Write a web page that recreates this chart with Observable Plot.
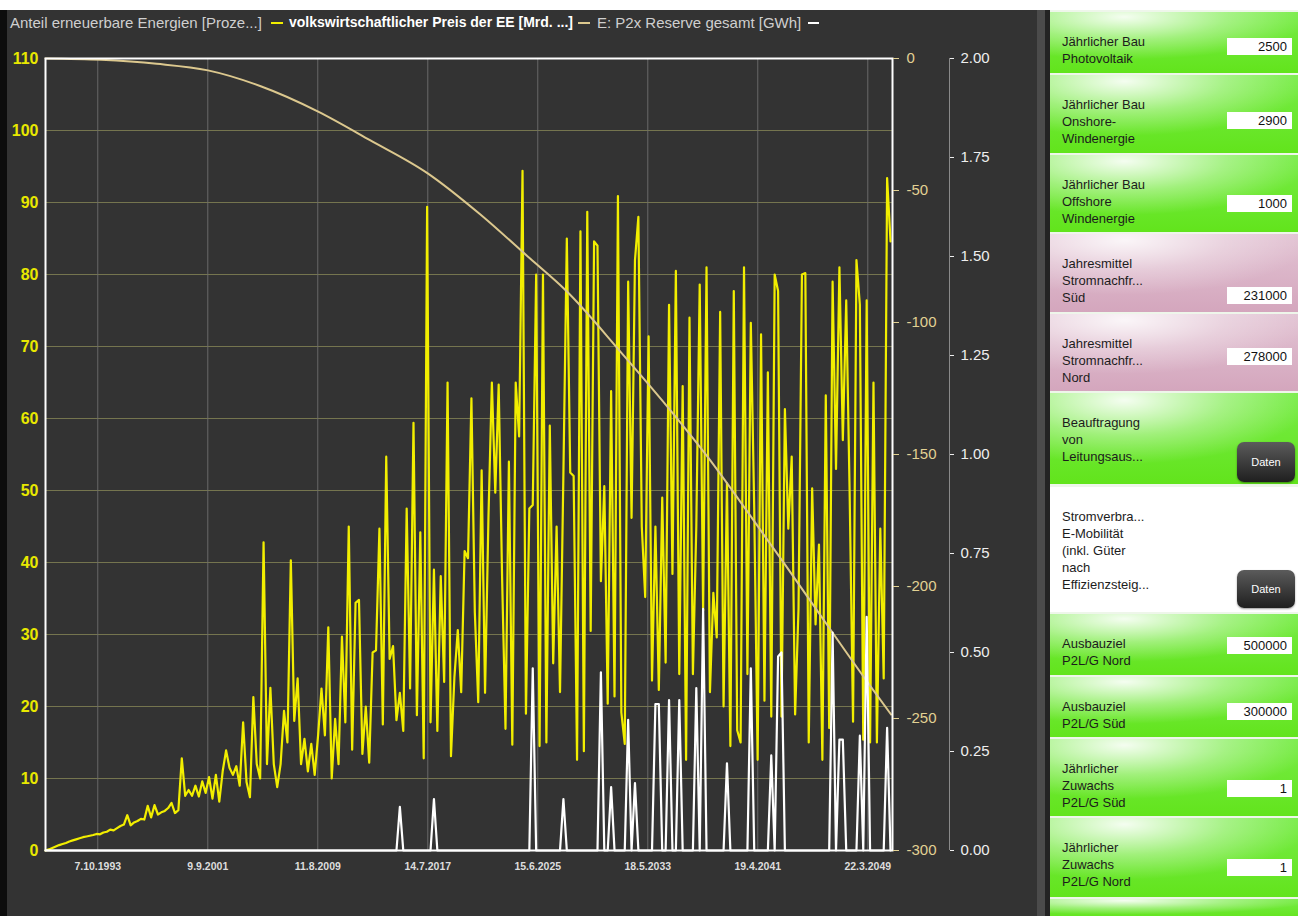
<!DOCTYPE html>
<html><head><meta charset="utf-8">
<script src="https://cdn.jsdelivr.net/npm/d3@7"></script>
<script src="https://cdn.jsdelivr.net/npm/@observablehq/plot@0.6"></script>
<style>
html,body{margin:0;padding:0;background:#fff;width:1298px;height:916px;overflow:hidden;font-family:"Liberation Sans",Arial,Helvetica,sans-serif;}
#stage{position:absolute;left:0;top:10px;width:1050px;height:906px;background:#333333;}
#blackstrip{position:absolute;left:0;top:10px;width:7px;height:906px;background:#0d0d0d;}
#sep1{position:absolute;left:1037px;top:10px;width:8px;height:906px;background:#4b4b4b;}
#sep2{position:absolute;left:1045px;top:10px;width:5px;height:906px;background:#232323;}
#chart{position:absolute;left:0;top:0;}
.lg{position:absolute;top:14px;font-size:15px;line-height:17px;color:#cfcfcf;white-space:nowrap;}
.sw{position:absolute;top:22px;height:2px;}
#panel{position:absolute;left:1050px;top:10px;width:248px;height:906px;background:#eef6ea;}
.cell{position:absolute;left:0;width:248px;overflow:hidden;}
.green{background:radial-gradient(ellipse 75% 70% at 30% 8%, rgba(255,255,255,0.92) 0%, rgba(255,255,255,0.35) 55%, rgba(255,255,255,0) 100%), linear-gradient(#78ec48,#62e41c);}
.pink{background:radial-gradient(ellipse 75% 70% at 30% 8%, rgba(255,255,255,0.85) 0%, rgba(255,255,255,0.3) 55%, rgba(255,255,255,0) 100%), linear-gradient(#e2c3d3,#d4a6bd);}
.white{background:#fff;}
.lab{position:absolute;left:12px;top:21px;font-size:13px;line-height:17px;color:#1c1c1c;}
.inp{position:absolute;left:177px;width:60px;height:17px;background:#fff;font-size:13px;line-height:17px;text-align:right;padding-right:5px;color:#111;}
.btn{position:absolute;left:187px;width:58px;border-radius:7px;background:linear-gradient(#5b5b5b,#1f1f1f);color:#fff;font-size:11px;text-align:center;box-shadow:0 1px 2px rgba(0,0,0,0.4);}
</style></head>
<body>
<div id="stage"></div>
<div id="blackstrip"></div>
<div id="sep1"></div><div id="sep2"></div>
<div id="chart"></div>
<div class="lg" style="left:10px">Anteil erneuerbare Energien [Proze...]</div>
<div class="sw" style="left:271px;width:12px;background:#f2ee00"></div>
<div class="lg" style="left:289px;font-weight:bold;color:#fff;font-size:14px">volkswirtschaftlicher Preis der EE [Mrd. ...]</div>
<div class="sw" style="left:578px;width:12px;background:#dcc88e"></div>
<div class="lg" style="left:597px">E: P2x Reserve gesamt [GWh]</div>
<div class="sw" style="left:808px;width:11px;background:#ffffff"></div>
<div id="panel"></div>
<script>
// ---- Data ----
// Anteil erneuerbare Energien [%] (left axis), regular time steps 1990 .. end of 2050
const ANTEIL = [
 0, 0.15, 0.35, 0.55, 0.75, 0.9, 1.05, 1.25, 1.4, 1.55,
 1.7, 1.85, 1.95, 2.05, 2.15, 2.3, 2.25, 2.5, 2.6, 2.9,
 2.8, 3.1, 3.4, 3.6, 4.9, 3.5, 3.9, 4.1, 4.4, 4.3,
 6.2, 4.6, 6.3, 5.0, 5.3, 5.5, 5.9, 6.6, 5.2, 5.6,
 12.8, 7.6, 8.4, 7.6, 9.0, 7.5, 9.6, 8.0, 10.2, 7.2,
 10.5, 6.8, 11, 13.9, 11.5, 10.5, 11.7, 9, 17.8, 9.5,
 7.4, 21.3, 12, 10, 42.8, 12, 22.6, 12, 8.8, 12,
 19.4, 15, 40.3, 18, 23.9, 12, 15.5, 11, 14.8, 10.5,
 16, 22.5, 16, 31, 10, 18.3, 12,
 29.7, 17.8, 45, 14, 34.4, 34.8, 13.4, 20, 12.2, 27.5,
 27.8, 44.7, 17.5, 54.7, 26.6, 28.4, 18.1, 21.9, 16.6, 47.5,
 22.5, 59.4, 18.8, 44.2, 12.8, 89.4, 17.8, 39, 16.6, 38.1,
 23.4, 65, 13.1, 24, 30.6, 22, 41.6, 40.6, 62.8, 33.1,
 20.6, 52.8, 21.9, 46.3, 65, 49.7, 64.7, 38, 16.9, 54,
 14.7, 65, 57.5, 94.4,
 19, 47.5, 48, 80, 14.5, 80, 15, 59, 26, 45,
 22, 52.5, 85, 52.5, 52, 12.6, 86, 13.8, 88.7, 30.5,
 84.6, 84, 37.4, 50.6, 20.4, 63.8, 21.4, 90.9, 19.2, 14.8,
 79, 46.2, 82, 88, 45, 35.2, 71.4, 23.6, 45, 22.3,
 49, 26.1, 75.8, 38.4, 80.5, 24.5, 64.5, 12.6, 74, 24.5,
 45, 78.6, 33.3, 81,
 22, 35.8, 29.6, 74.8, 20, 51, 14.5, 77.7, 16.7, 15,
 81, 24.5, 73.3, 47.5, 12.6, 71.7, 20.8, 66.4, 18.6, 80,
 77.7, 18.6, 61.3, 44.7, 54.7, 18.9, 33.6, 80, 80.2, 15,
 50.3, 31.4, 42.5, 12.6, 63.2, 17, 79, 53, 81, 57,
 76.4, 49.7, 17.9, 82, 75.8, 15.4, 76.4, 15, 65, 15,
 44.7, 23.9, 93.4, 84.6
];
const SERIES_START = "1990-01-01";
const SERIES_END = "2050-11-10";

// E: P2x Reserve gesamt [GWh] (outer right axis): non-zero steps [step index, value]; all other steps are 0
const RESERVE_NONZERO = [
 [104,0.11],[114,0.13],[143,0.46],[152,0.13],[163,0.45],[166,0.16],[171,0.33],[173,0.17],
 [179,0.37],[180,0.37],[183,0.38],[186,0.38],[191,0.41],[193,0.61],[200,0.22],[207,0.46],
 [213,0.24],[215,0.49],[216,0.50],[231,0.55],[233,0.28],[234,0.28],[239,0.29],[241,0.59],[247,0.31]
];

// volkswirtschaftlicher Preis der EE [Mrd. €] (inner right axis)
const PREIS_YEARS  = [1990, 1994, 1998, 2001.7, 2005.5, 2009.6, 2013.4, 2017.5, 2021.3, 2024.9, 2027.5, 2031.4, 2035.2, 2037.7, 2040.6, 2043.3, 2046.75, 2049.3, 2050.9];
const PREIS_VALUES = [0, -0.5, -2, -4.5, -10.5, -20, -31, -43.4, -59, -75.8, -88, -111, -134.5, -151, -172, -192, -218, -237, -248.5];

// axes
const X_TICKS = ["1993-10-07","2001-09-09","2009-08-11","2017-07-14","2025-06-15","2033-05-18","2041-04-19","2049-03-22"];
const X_DOMAIN = ["1990-01-01","2051-01-01"];
const LEFT_TICKS = [0,10,20,30,40,50,60,70,80,90,100,110];
const PREIS_TICKS = [0,-50,-100,-150,-200,-250,-300];
const PREIS_DOMAIN = [-300, 0];
const RESERVE_TICKS = [0,0.25,0.5,0.75,1,1.25,1.5,1.75,2];
const RESERVE_DOMAIN = [0, 2];

// side panel
const PANEL_CELLS = [
 {lines:["Jährlicher Bau","Photovoltaik"], kind:"green", top:2, h:61, value:"2500", inTop:28},
 {lines:["Jährlicher Bau","Onshore-","Windenergie"], kind:"green", top:65, h:78, value:"2900", inTop:102},
 {lines:["Jährlicher Bau","Offshore","Windenergie"], kind:"green", top:145, h:77, value:"1000", inTop:185},
 {lines:["Jahresmittel","Stromnachfr...","Süd"], kind:"pink", top:224, h:78, value:"231000", inTop:277},
 {lines:["Jahresmittel","Stromnachfr...","Nord"], kind:"pink", top:304, h:77, value:"278000", inTop:338},
 {lines:["Beauftragung","von","Leitungsaus..."], kind:"green", top:383, h:91, button:"Daten", bTop:432, bH:40},
 {lines:["Stromverbra...","E-Mobilität","(inkl. Güter","nach","Effizienzsteig..."], kind:"white", top:477, h:125, button:"Daten", bTop:560, bH:38},
 {lines:["Ausbauziel","P2L/G Nord"], kind:"green", top:604, h:61, value:"500000", inTop:627},
 {lines:["Ausbauziel","P2L/G Süd"], kind:"green", top:667, h:60, value:"300000", inTop:693},
 {lines:["Jährlicher","Zuwachs","P2L/G Süd"], kind:"green", top:729, h:77, value:"1", inTop:770},
 {lines:["Jährlicher","Zuwachs","P2L/G Nord"], kind:"green", top:808, h:79, value:"1", inTop:849},
 {lines:[], kind:"green", top:889, h:20}
];

// ---- Build ----
const N = ANTEIL.length;
const t0 = new Date(SERIES_START + "T00:00Z"), t1 = new Date(SERIES_END + "T00:00Z");
const stepTime = d3.scaleLinear().domain([0, N - 1]).range([t0, t1]);
const dates = d3.range(N).map(i => new Date(stepTime(i)));
const yearToDate = y => { const f = Math.floor(y); const a = Date.UTC(f,0,1), b = Date.UTC(f+1,0,1); return new Date(a + (y - f) * (b - a)); };

// secondary scales mapped onto the left axis range
const leftMax = LEFT_TICKS[LEFT_TICKS.length - 1];
const preisToLeft = d3.scaleLinear().domain(PREIS_DOMAIN).range([0, leftMax]);
const reserveToLeft = d3.scaleLinear().domain(RESERVE_DOMAIN).range([0, leftMax]);

const anteilData = ANTEIL.map((v, i) => ({date: dates[i], y: v}));
const reserveMap = new Map(RESERVE_NONZERO);
const reserveData = dates.map((d, i) => ({date: d, y: reserveToLeft(reserveMap.get(i) || 0)}));
const preisData = PREIS_YEARS.map((yr, i) => ({date: yearToDate(yr), y: preisToLeft(PREIS_VALUES[i])}));
const xTicks = X_TICKS.map(s => new Date(s + "T00:00Z"));
const xDomain = X_DOMAIN.map(s => new Date(s + "T00:00Z"));
const fmtDate = d3.utcFormat("%-d.%-m.%Y");

const chart = Plot.plot({
  width: 1040, height: 916,
  marginTop: 58, marginBottom: 66, marginLeft: 45, marginRight: 148,
  x: {type: "utc", domain: xDomain},
  y: {domain: [0, leftMax]},
  style: {background: "transparent", fontFamily: "Liberation Sans, Arial, Helvetica, sans-serif", overflow: "visible"},
  marks: [
    Plot.gridY(LEFT_TICKS, {stroke: "#8c8c5a", strokeOpacity: 0.75}),
    Plot.gridX(xTicks, {stroke: "#6e6e6e", strokeOpacity: 0.9}),
    Plot.line(anteilData, {x: "date", y: "y", stroke: "#f2ee00", strokeWidth: 2.2}),
    Plot.line(preisData, {x: "date", y: "y", stroke: "#dcc88e", strokeWidth: 2, curve: "monotone-x"}),
    Plot.line(reserveData, {x: "date", y: "y", stroke: "#ffffff", strokeWidth: 2.2}),
    Plot.frame({stroke: "#ffffff", strokeWidth: 2}),
    Plot.ruleX([xDomain[1]], {dx: 57, stroke: "#8a8a8a"}),
    Plot.axisY(LEFT_TICKS, {anchor: "left", tickSize: 0, tickPadding: 7, color: "#e8e800", fontSize: 16, fontWeight: "bold", label: null}),
    Plot.axisY(PREIS_TICKS.map(preisToLeft), {anchor: "right", tickSize: 6, tickPadding: 8, color: "#e2d193", fontSize: 15, label: null,
      tickFormat: d => String(Math.round(preisToLeft.invert(d)))}),
    Plot.axisY(RESERVE_TICKS.map(reserveToLeft), {anchor: "right", dx: 57, tickSize: 4, tickPadding: 7, color: "#eeeeee", fontSize: 15, label: null,
      tickFormat: d => reserveToLeft.invert(d).toFixed(2)}),
    Plot.axisX(xTicks, {anchor: "bottom", tickSize: 0, tickPadding: 12, color: "#dddddd", fontSize: 10.5, fontWeight: "bold", label: null, tickFormat: fmtDate})
  ]
});
document.getElementById("chart").appendChild(chart);

// panel
const panel = document.getElementById("panel");
PANEL_CELLS.forEach(c => {
  const el = document.createElement("div");
  el.className = "cell " + c.kind;
  el.style.top = c.top + "px"; el.style.height = c.h + "px";
  if (c.lines.length) {
    const lab = document.createElement("div");
    lab.className = "lab";
    lab.innerHTML = c.lines.map(s => s.replace(/&/g,"&amp;")).join("<br>");
    el.appendChild(lab);
  }
  panel.appendChild(el);
  if (c.value) {
    const inp = document.createElement("div");
    inp.className = "inp"; inp.textContent = c.value;
    inp.style.top = c.inTop + "px";
    panel.appendChild(inp);
  }
  if (c.button) {
    const b = document.createElement("div");
    b.className = "btn"; b.textContent = c.button;
    b.style.top = c.bTop + "px"; b.style.height = c.bH + "px"; b.style.lineHeight = c.bH + "px";
    panel.appendChild(b);
  }
});
</script>
</body></html>
